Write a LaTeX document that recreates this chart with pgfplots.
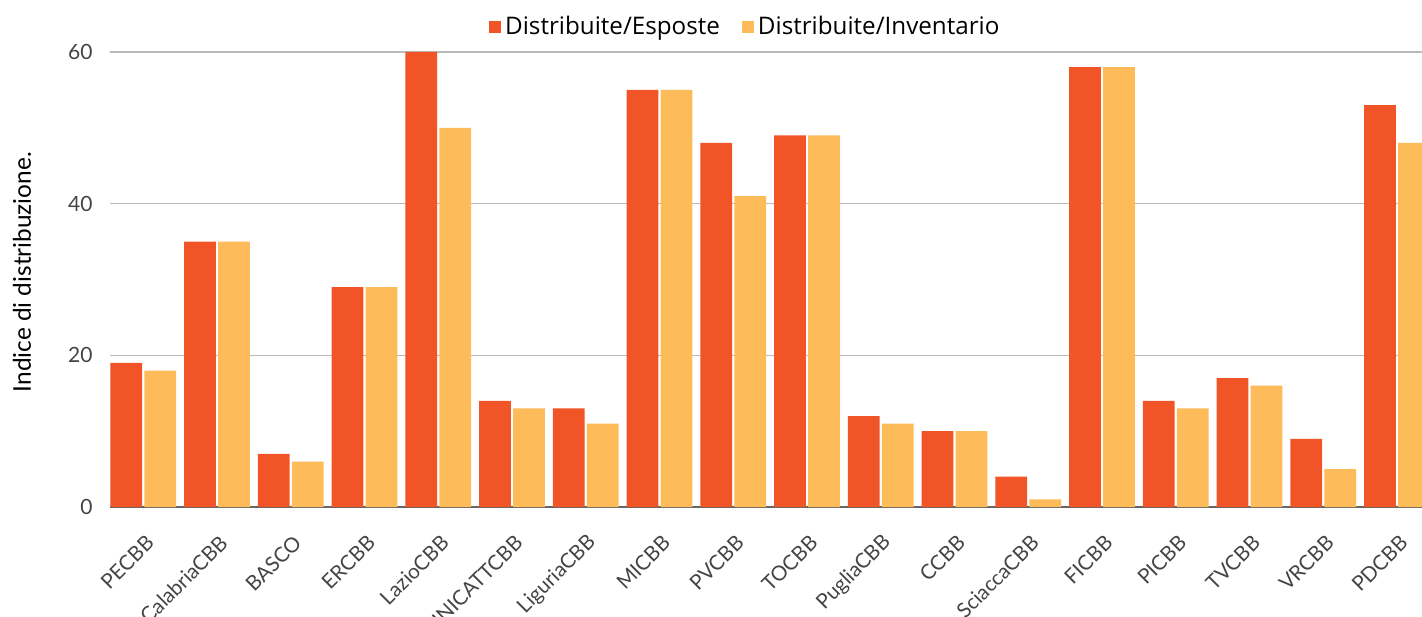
\documentclass[border=0pt]{standalone}
\usepackage{pgfplots}
\pgfplotsset{compat=1.18}
\usepackage{fontspec}
\setmainfont{Lato}
\newfontfamily\legfont{Open Sans}
\definecolor{cred}{HTML}{F15527}
\definecolor{cyel}{HTML}{FEBB5A}
\definecolor{tickgray}{HTML}{444444}
\begin{document}
\begin{tikzpicture}
\path[use as bounding box] (0,0) rectangle (711pt,308pt);
\clip (0,0) rectangle (711pt,308pt);
\begin{axis}[
  at={(55pt,54.5pt)}, anchor=south west,
  width=656pt, height=227.5pt, scale only axis,
  xmin=-0.451, xmax=17.339, ymin=0, ymax=60,
  ybar, bar width=0.43,
  axis x line*=bottom, axis y line*=left,
  x axis line style={draw=black!60, line width=1pt, -},
  y axis line style={draw=none},
  ymajorgrids, grid style={draw=black!27, line width=0.75pt},
  ytick={0,20,40,60},
  major tick length=0pt,
  xtick={0,...,17},
  xticklabels={PECBB,CalabriaCBB,BASCO,ERCBB,LazioCBB,UNICATTCBB,LiguriaCBB,MICBB,PVCBB,TOCBB,PugliaCBB,CCBB,SciaccaCBB,FICBB,PICBB,TVCBB,VRCBB,PDCBB},
  xticklabel style={xshift=3.5pt, yshift=-16pt, rotate=45, anchor=east, inner sep=0pt, font=\fontsize{10.3}{12}\selectfont, text=tickgray},
  yticklabel style={anchor=east, inner sep=0pt, xshift=-8.5pt, font=\fontsize{10.5}{12}\selectfont, text=tickgray},
  /pgf/number format/assume math mode=true,
  ylabel={Indice di distribuzione.},
  ylabel style={at={(axis description cs:-0.067,0.516)}, anchor=center, rotate=0, font=\fontsize{12.2}{14}\selectfont},
  legend columns=2,
  legend style={at={(axis description cs:0.485,1.055)}, anchor=center, draw=none, fill=none,
    font=\legfont\fontsize{12.1}{14}\selectfont,
    /tikz/every even column/.append style={column sep=9pt}},
  legend image code/.code={\fill[#1] (0pt,-3pt) rectangle (6pt,3pt);},
]
\addplot[fill=cred, draw=none, bar shift=-0.23] coordinates {
(0,19) (1,35) (2,7) (3,29) (4,60) (5,14) (6,13) (7,55) (8,48) (9,49) (10,12) (11,10) (12,4) (13,58) (14,14) (15,17) (16,9) (17,53)};
\addplot[fill=cyel, draw=none, bar shift=0.23] coordinates {
(0,18) (1,35) (2,6) (3,29) (4,50) (5,13) (6,11) (7,55) (8,41) (9,49) (10,11) (11,10) (12,1) (13,58) (14,13) (15,16) (16,5) (17,48)};
\legend{Distribuite/Esposte, Distribuite/Inventario}
\end{axis}
\end{tikzpicture}
\end{document}
